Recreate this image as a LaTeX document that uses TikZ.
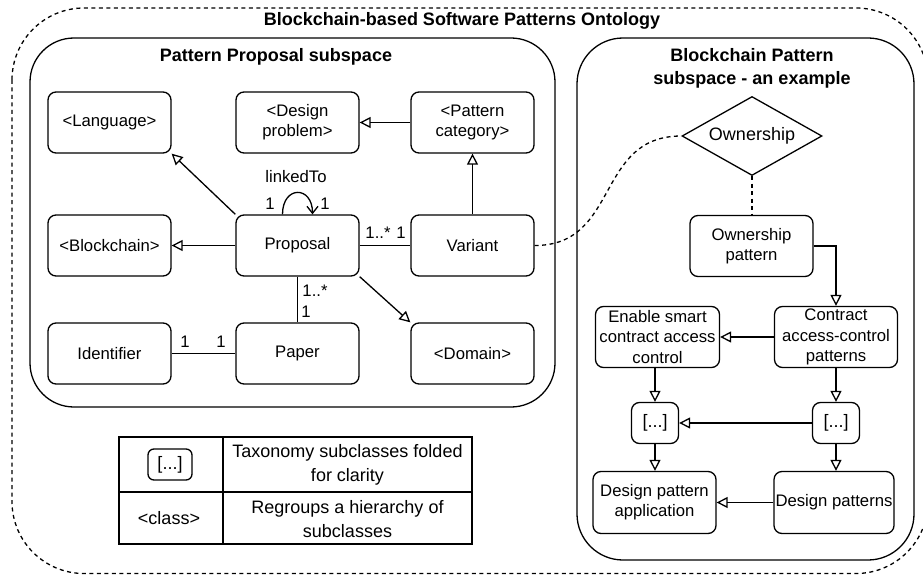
\documentclass[tikz,border=0pt]{standalone}
\usepackage{fontspec}
\setmainfont{Liberation Sans}
\usetikzlibrary{arrows.meta,shapes.geometric}
\newcommand\nodefont{\fontsize{16.7}{20.3}\selectfont}
\newcommand\bigfont{\fontsize{18}{23.5}\selectfont}
\newcommand\titlefont{\fontsize{18}{23}\selectfont\bfseries}
\begin{document}
\begin{tikzpicture}[x=1pt,y=-1pt,
  ln/.style={line width=1.3pt},
  box/.style={draw, ln, rounded corners=8pt, minimum width=123pt, minimum height=61pt, align=center, font=\nodefont, inner sep=0pt},
  fold/.style={box, minimum width=47pt, minimum height=41pt, font=\bigfont},
  gen/.style={ln, -{Triangle[open,length=11pt,width=11pt]}},
  dsh/.style={ln, dash pattern=on 4pt off 3.5pt},
  lbl/.style={font=\nodefont, inner sep=0pt},
  ttl/.style={font=\titlefont, align=center, inner sep=0pt},
  cell/.style={font=\bigfont, align=center, inner sep=0pt}]
\useasboundingbox (0,0) rectangle (923,575);
% outer dashed frame
\draw[dsh, rounded corners=72pt] (12,8) rectangle (928,573.5);
\node[ttl] (title) at (462,21) {Blockchain-based Software Patterns Ontology};
% subspaces
\draw[ln, rounded corners=44pt] (30,38) rectangle (555,407);
\node[ttl] (ltitle) at (276,57) {Pattern Proposal subspace};
\draw[ln, rounded corners=46pt] (577,38) rectangle (914,560);
\node[ttl] (rtitle) at (752,68.5) {Blockchain Pattern\\subspace - an example};
% left nodes
\node[box] (lang)  at (109.5,122.5) {<Language>};
\node[box] (dp)    at (297.5,122.5) {<Design\\problem>};
\node[box] (pc)    at (472.5,122.5) {<Pattern\\category>};
\node[box] (bc)    at (109.5,245.5) {<Blockchain>};
\node[box] (prop)  at (297.5,245.5) {Proposal};
\node[box] (var)   at (472.5,245.5) {Variant};
\node[box] (ident) at (109.5,353.5) {Identifier};
\node[box] (paper) at (297.5,353.5) {Paper};
\node[box] (dom)   at (472.5,353.5) {<Domain>};
% left edges
\draw[gen] (prop.north west) -- (lang.south east);
\draw[gen] (prop) -- (bc);
\draw[gen] (pc) -- (dp);
\draw[gen] (var) -- (pc);
\draw[gen] (prop.south east) -- (dom.north west);
\draw[ln] (prop) -- (var);
\draw[ln] (prop) -- (paper);
\draw[ln] (ident) -- (paper);
\draw[ln, -{Straight Barb[length=7pt,width=11pt]}] ([xshift=-15pt]prop.north) .. controls +(0,-29) and +(0,-29) .. ([xshift=15pt]prop.north);
\node[lbl] (loopname) at (296,177) {linkedTo};
\node[lbl] (loopa) at (270,204) {1};
\node[lbl] (loopb) at (325,204) {1};
\node[lbl] (pva) at (378,233) {1..*};
\node[lbl] (pvb) at (401,233) {1};
\node[lbl] (ppa) at (315,291) {1..*};
\node[lbl] (ppb) at (306,312) {1};
\node[lbl] (ipa) at (185,342) {1};
\node[lbl] (ipb) at (221,342) {1};
% right nodes
\node[draw, ln, diamond, aspect=1.77, minimum width=140pt, minimum height=79pt, inner sep=0pt, font=\bigfont] (own) at (752,136) {Ownership};
\node[box] (op)  at (751.5,246) {Ownership\\pattern};
\node[box, minimum width=124pt] (esc) at (657.5,337) {Enable smart\\contract access\\control};
\node[box] (cap) at (836,337) {Contract\\access-control\\patterns};
\node[fold] (fl) at (655,423) {[...]};
\node[fold] (fr) at (836,423) {[...]};
\node[box, minimum height=62pt] (dpa) at (654.5,502.5) {Design pattern\\application};
\node[box, minimum width=120pt, minimum height=62pt] (dps) at (834,502.5) {Design patterns};
% right edges
\draw[dsh] (var.east) .. controls (620,245.5) and (595,136) .. (own.west);
\draw[dsh] (own.south) -- (own.south |- op.north);
\draw[gen] (op.east) -| (cap.north);
\draw[gen] (cap) -- (esc);
\draw[gen] (esc.south -| fl.north) -- (fl.north);
\draw[gen] (cap.south -| fr.north) -- (fr.north);
\draw[gen] (fr) -- (fl);
\draw[gen] (fl.south) -- (fl.south |- dpa.north);
\draw[gen] (fr.south) -- (fr.south |- dps.north);
\draw[gen] (dps) -- (dpa);
% legend
\draw[ln] (119,437) rectangle (472,544);
\draw[ln] (223,437) -- (223,544);
\draw[ln] (119,492) -- (472,492);
\node[fold, minimum width=44pt, minimum height=31pt, rounded corners=6pt] (lgfold) at (170,464.5) {[...]};
\node[cell] (lgclass) at (169,518) {<class>};
\node[cell] (lgt1) at (347.5,465) {Taxonomy subclasses folded\\for clarity};
\node[cell] (lgt2) at (347.5,519) {Regroups a hierarchy of\\subclasses};
\end{tikzpicture}
\end{document}
